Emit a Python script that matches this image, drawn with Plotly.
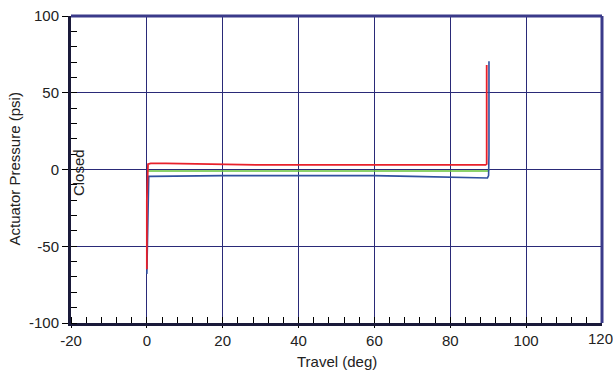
import plotly.graph_objects as go

# Data
red_x = [0, 0, 0.3, 1, 5, 10, 15, 20, 30, 40, 50, 60, 70, 80, 88, 89.3, 89.6, 89.6]
red_y = [-65, -20, 3.5, 4, 4, 3.8, 3.5, 3, 3, 3, 3, 3, 3, 3, 3, 3, 3.5, 68]

green_x = [0.2, 1, 20, 40, 60, 80, 90, 90.2]
green_y = [-1, -1, -1, -1, -1, -1, -1, 0]

blue_x = [0, 0.2, 0.5, 1, 10, 20, 40, 60, 70, 80, 88, 89.8, 90.1, 90.2, 90.2]
blue_y = [-68, -40, -4.5, -4.5, -4.2, -4, -4, -4, -4.5, -5, -5.5, -5.5, -4, 10, 70.5]

x_ticks = [-20, 0, 20, 40, 60, 80, 100, 120]
x_labels = ["-20", "0", "20", "40", "60", "80", "100", "120"]
y_ticks = [-100, -50, 0, 50, 100]
y_labels = ["-100", "-50", "0", "50", "100"]

FONT = "Liberation Sans, Arial, sans-serif"
GRID = "#2a2a78"
EDGE = "#3a3a8a"
TXT = "#222222"

L, R, T, B = 71, 11, 16, 48
W, H = 613, 371
pw, ph = W - L - R, H - T - B

fig = go.Figure()
fig.add_trace(go.Scatter(x=green_x, y=green_y, mode="lines",
                         line=dict(color="#66c23a", width=1.5), showlegend=False))
fig.add_trace(go.Scatter(x=blue_x, y=blue_y, mode="lines",
                         line=dict(color="#3050a0", width=1.6), showlegend=False))
fig.add_trace(go.Scatter(x=red_x, y=red_y, mode="lines",
                         line=dict(color="#e8202a", width=1.8), showlegend=False))

fig.update_layout(
    width=W, height=H,
    margin=dict(l=L, r=R, t=T, b=B),
    paper_bgcolor="white", plot_bgcolor="white",
    font=dict(family=FONT, size=15, color=TXT),
    xaxis=dict(
        range=[-20, 120], tickvals=x_ticks[:-1], ticktext=x_labels[:-1], showgrid=True,
        gridcolor=GRID, gridwidth=1, automargin=False,
        zeroline=False, showline=True, linecolor="#1a1a3a", linewidth=3,
        ticks="outside", ticklen=2, tickcolor="black",
        minor=dict(dtick=4, tick0=0, ticks="inside", ticklen=6, tickcolor="black", showgrid=False),
        tickfont=dict(size=15, color=TXT),
    ),
    yaxis=dict(
        range=[-100, 100], tickvals=y_ticks, ticktext=y_labels, showgrid=True,
        gridcolor=GRID, gridwidth=1, automargin=False,
        zeroline=False, showline=True, linecolor="#1a1a3a", linewidth=3,
        ticks="outside", ticklen=6, tickcolor="black",
        minor=dict(dtick=10, tick0=0, ticks="inside", ticklen=6, tickcolor="black", showgrid=False),
        tickfont=dict(size=15, color=TXT),
    ),
    shapes=[
        dict(type="line", xref="paper", yref="paper", x0=0, x1=1, y0=1, y1=1,
             line=dict(color=EDGE, width=3)),
        dict(type="line", xref="paper", yref="paper", x0=1, x1=1, y0=0, y1=1,
             line=dict(color=EDGE, width=3)),
    ],
    annotations=[
        dict(text=x_labels[-1], x=x_ticks[-1], y=0, xref="x", yref="paper",
             xanchor="center", yanchor="middle", yshift=-15, xshift=-2, showarrow=False,
             font=dict(size=15, color=TXT)),
        dict(text="Closed", x=0, y=-2, xref="paper", yref="y", xanchor="left",
             yanchor="middle", xshift=-3, textangle=-90, showarrow=False,
             font=dict(size=15, color=TXT)),
        dict(text="Travel (deg)", x=0.5, y=(T + ph - 361) / ph, xref="paper", yref="paper",
             xanchor="center", yanchor="middle", showarrow=False,
             font=dict(size=15, color=TXT)),
        dict(text="Actuator Pressure (psi)", x=(14 - L) / pw, y=0.5, xref="paper", yref="paper",
             xanchor="center", yanchor="middle", textangle=-90, showarrow=False,
             font=dict(size=15, color=TXT)),
    ],
)

fig.write_html("out.html", config={"displayModeBar": False},
               post_script="document.body.style.margin='0';document.body.style.overflow='hidden';")
